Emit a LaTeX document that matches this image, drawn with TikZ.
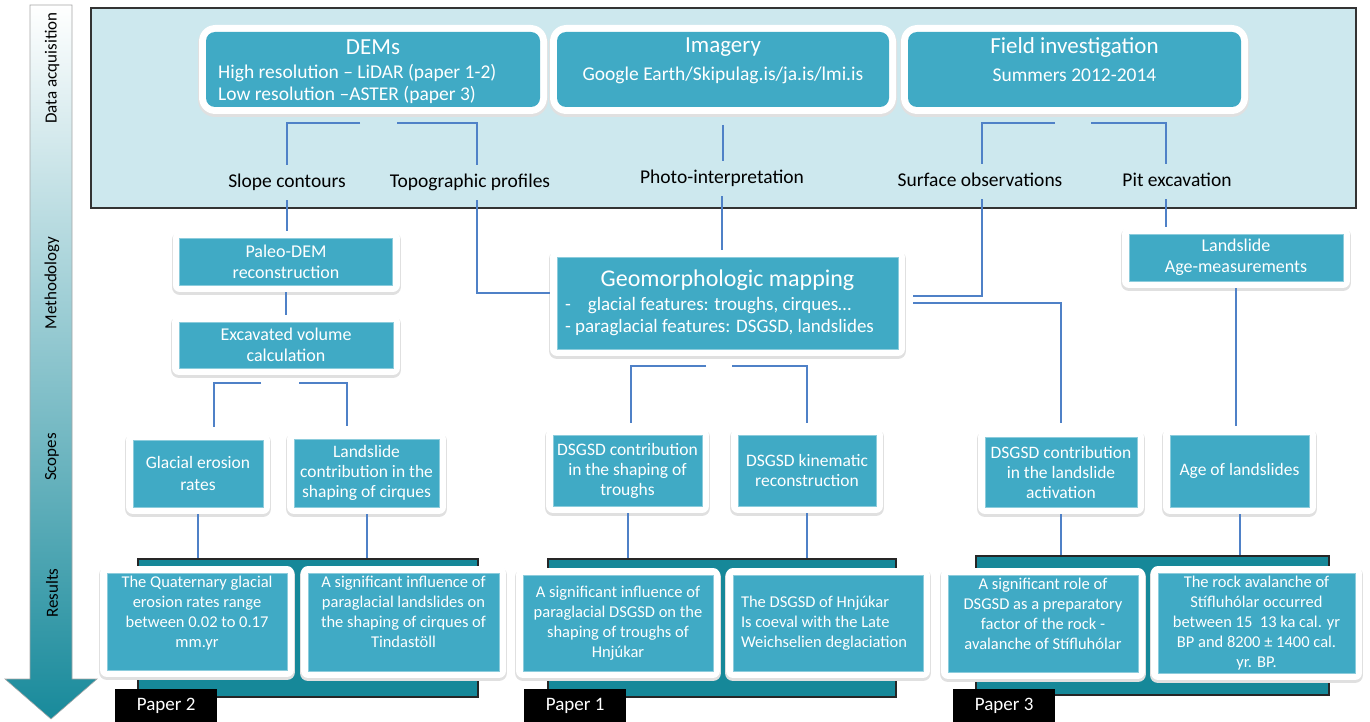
\documentclass[tikz,border=0pt]{standalone}
\usepackage{fontspec}
\setmainfont{Carlito}
\definecolor{cardteal}{RGB}{64,170,197}
\definecolor{panelteal}{RGB}{22,136,153}
\definecolor{acqblue}{RGB}{205,232,238}
\definecolor{linkblue}{RGB}{79,129,199}
\definecolor{arrowteal}{RGB}{24,138,155}

\begin{document}
\begin{tikzpicture}[x=1pt,y=-1pt,
  card/.style={fill=cardteal, draw=cardteal!60!white, line width=.5pt, text=white, align=center,
    inner sep=0pt, outer sep=7pt,
    preaction={draw=black!12, line width=16pt, line join=round, transform canvas={yshift=-2pt}},
    preaction={draw=white, line width=14pt, line join=round}},
  topcard/.style={card, draw=none, rounded corners=9pt},
  method/.style={card, font=\fontsize{18}{21}\selectfont},
  scope/.style={card, font=\fontsize{17.5}{20}\selectfont},
  res/.style={card, font=\fontsize{16.5}{20}\selectfont},
  ttl/.style={text=white, inner sep=0pt, font=\fontsize{23}{26}\selectfont},
  sub/.style={text=white, inner sep=0pt, font=\fontsize{19.5}{22}\selectfont},
  lbl/.style={font=\fontsize{19.5}{22}\selectfont, inner sep=0pt, outer sep=9pt, text height=13pt, text depth=4pt},
  link/.style={draw=linkblue, line width=2pt},
  panel/.style={fill=panelteal, draw=black!85, line width=1.2pt},
  paper/.style={fill=black, text=white, font=\fontsize{19}{20}\selectfont, inner sep=0pt,
    minimum width=102pt, minimum height=34pt, anchor=north west},
  stage/.style={rotate=90, font=\fontsize{17}{20}\selectfont}]
\useasboundingbox (0,0) rectangle (1370,722);

% stages arrow
\draw[top color=white, bottom color=arrowteal, draw=black!35, line width=.6pt]
  (30,5) -- (72,5) -- (72,679) -- (97,679) -- (51,719) -- (5,679) -- (30,679) -- cycle;
\node[stage] (st1) at (52,68) {Data acquisition};
\node[stage] (st2) at (52,283) {Methodology};
\node[stage] (st3) at (52,457) {Scopes};
\node[stage] (st4) at (52,593) {Results};

% data acquisition
\draw[fill=acqblue, draw=black!80, line width=1.3pt] (91,8) rectangle (1356,208);

\node[topcard, minimum width=334pt, minimum height=75pt] (dems) at (373,69.5) {};
\node[topcard, minimum width=332pt, minimum height=75pt] (imag) at (723,69.5) {};
\node[topcard, minimum width=333pt, minimum height=75pt] (field) at (1074.5,69.5) {};
\node[ttl] (demsT) at (373,47) {DEMs};
\node[sub, align=left, anchor=west] (demsS) at (218,84) {High resolution – LiDAR (paper 1-2)\\Low resolution –ASTER (paper 3)};
\node[ttl] (imagT) at (723,47) {Imagery};
\node[sub] (imagS) at (723,75) {Google Earth/Skipulag.is/ja.is/lmi.is};
\node[ttl] (fieldT) at (1074.5,47) {Field investigation};
\node[sub] (fieldS) at (1074.5,75) {Summers 2012-2014};

\node[lbl] (slope) at (287,183) {Slope contours};
\node[lbl] (topo) at (470,183) {Topographic profiles};
\node[lbl] (photo) at (722,179) {Photo-interpretation};
\node[lbl] (surf) at (980,182) {Surface observations};
\node[lbl] (pit) at (1177,182) {Pit excavation};

% result panels
\node[panel, minimum width=340pt, minimum height=138pt] (p2) at (308,628) {};
\node[panel, minimum width=348pt, minimum height=138pt] (p1) at (722,628) {};
\node[panel, minimum width=353pt, minimum height=139pt] (p3) at (1152.5,625.5) {};

% methodology
\node[method, minimum width=213pt, minimum height=47pt] (paleo) at (286,261.5) {Paleo-DEM\\reconstruction};
\node[method, minimum width=214pt, minimum height=46pt] (excav) at (286,345) {Excavated volume\\calculation};
\node[card, minimum width=341pt, minimum height=92pt, font=\fontsize{19}{22}\selectfont] (geom) at (727.5,303)
  {{\fontsize{24}{28}\selectfont Geomorphologic mapping}\\[2pt]\parbox[t]{325pt}{-\hspace{17pt}glacial features: troughs, cirques…\\- paraglacial features: DSGSD, landslides}};
\node[method, minimum width=214pt, minimum height=47pt] (age) at (1236,257.5) {Landslide\\Age-measurements};

% scopes
\node[scope, minimum width=130pt, minimum height=67pt, font=\fontsize{17.5}{22}\selectfont] (glac) at (198,473.5) {Glacial erosion\\rates};
\node[scope, minimum width=145pt, minimum height=68pt] (lcirq) at (366.5,473) {Landslide\\contribution in the\\shaping of cirques};
\node[scope, minimum width=149pt, minimum height=71pt] (dtro) at (627.5,470.5) {DSGSD contribution\\in the shaping of\\troughs};
\node[scope, minimum width=138pt, minimum height=71pt] (dkin) at (807,470.5) {DSGSD kinematic\\reconstruction};
\node[scope, minimum width=152pt, minimum height=70pt] (dact) at (1061,472) {DSGSD contribution\\in the landslide\\activation};
\node[scope, minimum width=139pt, minimum height=72pt] (agel) at (1239.5,471) {Age of landslides};

% results
\node[res, minimum width=180pt, minimum height=97pt] (r1) at (197,621.5) {The Quaternary glacial\\erosion rates range\\between 0.02 to 0.17\\mm.yr\\\mbox{}};
\node[res, minimum width=191pt, minimum height=98pt] (r2) at (403.5,622) {A significant influence of\\paraglacial landslides on\\the shaping of cirques of\\Tindastöll\\\mbox{}};
\node[res, minimum width=190pt, minimum height=96pt] (r3) at (618,623) {A significant influence of\\paraglacial DSGSD on the\\shaping of troughs of\\Hnjúkar};
\node[res, minimum width=190pt, minimum height=96pt, align=flush left, text width=174pt] (r4) at (828,623) {The DSGSD of Hnjúkar\\Is coeval with the Late\\Weichselien deglaciation};
\node[res, minimum width=190pt, minimum height=97pt] (r5) at (1043,623.5) {A significant role of\\DSGSD as a preparatory\\factor of the rock -\\avalanche of Stífluhólar\\\mbox{}};
\node[res, minimum width=197pt, minimum height=100pt] (r6) at (1256.5,623) {The rock avalanche of\\Stífluhólar occurred\\between 15\ \ 13 ka cal. yr\\BP and 8200 ± 1400 cal.\\yr. BP.};

\node[paper] (pp2) at (115,689) {Paper 2};
\node[paper] (pp1) at (524,689) {Paper 1};
\node[paper] (pp3) at (953,689) {Paper 3};

% links
\coordinate (demsL) at (360,123);
\coordinate (demsR) at (397,123);
\coordinate (fieldL) at (1055,123);
\coordinate (fieldR) at (1091,123);
\coordinate (excavL) at (261,383);
\coordinate (excavR) at (299,383);
\coordinate (geomL) at (706,366);
\coordinate (geomR) at (732,366);
\coordinate (topoX) at ([xshift=7pt]topo.south);
\coordinate (surfX) at ([xshift=2pt]surf.south);
\coordinate (pitX) at ([xshift=-11pt]pit.south);

\draw[link] (demsL) -| (slope.north);
\draw[link] (demsR) -| ([xshift=7pt]topo.north);
\draw[link, shorten <=11pt] (imag.south) -- (imag.south |- photo.north);
\draw[link] (fieldL) -| ([xshift=2pt]surf.north);
\draw[link] (fieldR) -| ([xshift=-11pt]pit.north);

\draw[link] (slope.south) -- (slope.south |- paleo.north);
\draw[link] (paleo.south) -- (excav.north);
\draw[link, shorten >=6pt] (excavL) -| ([xshift=16pt]glac.north);
\draw[link, shorten >=6pt] (excavR) -| ([xshift=-19.5pt]lcirq.north);

\draw[link] (topoX) |- ([yshift=10pt]geom.west);
\draw[link] (photo.south) -- (photo.south |- geom.north);
\draw[link, shorten >=8pt] (surfX) |- ([yshift=7pt]geom.east);
\draw[link, shorten <=8pt, shorten >=7pt] (geom.east) -| (dact.north);
\draw[link, shorten >=5pt] (geomL) -| ([xshift=3.5pt]dtro.north);
\draw[link, shorten >=5pt] (geomR) -| (dkin.north);

\draw[link] (pitX) -- (pitX |- age.north);
\draw[link, shorten >=2pt] (age.south) -- (age.south |- agel.north);

\foreach \s/\p in {glac/p2, lcirq/p2, dtro/p1, dkin/p1, dact/p3, agel/p3}
  \draw[link] (\s.south) -- (\s.south |- \p.north);
\end{tikzpicture}
\end{document}
